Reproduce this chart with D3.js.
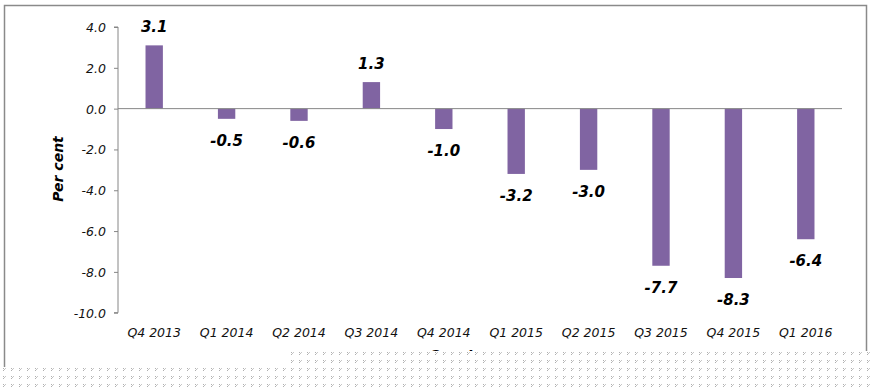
<!DOCTYPE html>
<html><head><meta charset="utf-8">
<script src="https://cdn.jsdelivr.net/npm/d3@7"></script>
<style>body{margin:0;background:#fff}svg{display:block}</style>
</head><body>
<script>
const categories = ["Q4 2013","Q1 2014","Q2 2014","Q3 2014","Q4 2014","Q1 2015","Q2 2015","Q3 2015","Q4 2015","Q1 2016"];
const values = [3.1,-0.5,-0.6,1.3,-1.0,-3.2,-3.0,-7.7,-8.3,-6.4];
const yTicks = [4,2,0,-2,-4,-6,-8,-10];

const W=872,H=390;
const svg=d3.select("body").append("svg").attr("width",W).attr("height",H);
const font="'DejaVu Sans', Verdana, sans-serif";

// frame
svg.append("rect").attr("x",4.5).attr("y",5.5).attr("width",862).attr("height",380)
  .attr("fill","#fff").attr("stroke","#8a8a8a").attr("stroke-width",1.5);

const x=d3.scaleBand().domain(categories).range([118,842]).paddingInner(0.76).paddingOuter(0.38);
const y=d3.scaleLinear().domain([-10,4]).range([312.7,27]);

// y axis
const yAxis=d3.axisLeft(y).tickValues(yTicks).tickSize(4).tickFormat(d=>d.toFixed(1));
const gy=svg.append("g").attr("transform","translate(118,0)").call(yAxis);
gy.select(".domain").attr("stroke","#868686").attr("d",`M-4,${y(4)}H0V${y(-10)}H-4`);
gy.selectAll(".tick line").attr("stroke","#868686");
gy.selectAll(".tick text").attr("x",-12).attr("font-family",font).attr("font-size",12.5)
  .attr("font-style","italic").attr("fill","#111").attr("dy","0.35em");

// bars
svg.selectAll("rect.bar").data(values).enter().append("rect").attr("class","bar")
  .attr("x",(d,i)=>x(categories[i])).attr("width",x.bandwidth())
  .attr("y",d=>y(Math.max(0,d))).attr("height",d=>Math.abs(y(d)-y(0)))
  .attr("fill","#8064A2");

// zero line
svg.append("line").attr("x1",118).attr("x2",842).attr("y1",y(0)).attr("y2",y(0))
  .attr("stroke","#868686").attr("stroke-width",1);

// x labels
svg.selectAll("text.xl").data(categories).enter().append("text").attr("class","xl")
  .attr("x",d=>x(d)+x.bandwidth()/2).attr("y",337).attr("text-anchor","middle")
  .attr("font-family",font).attr("font-size",12.5).attr("font-style","italic").attr("fill","#111")
  .text(d=>d);

// value labels
svg.selectAll("text.vl").data(values).enter().append("text").attr("class","vl")
  .attr("x",(d,i)=>x(categories[i])+x.bandwidth()/2)
  .attr("y",d=>d>=0? y(d)-13 : y(d)+27).attr("text-anchor","middle")
  .attr("font-family",font).attr("font-size",15).attr("font-weight","bold").attr("font-style","italic")
  .attr("fill","#000").text(d=>d.toFixed(1));

// y title
svg.append("text").attr("transform","translate(63,169) rotate(-90)").attr("text-anchor","middle")
  .attr("font-family",font).attr("font-size",14).attr("font-weight","bold").attr("font-style","italic")
  .attr("fill","#000").text("Per cent");

// x title (partly hidden)
svg.append("text").attr("x",429).attr("y",360).attr("text-anchor","start")
  .attr("font-family",font).attr("font-size",14).attr("font-weight","bold").attr("font-style","italic")
  .attr("fill","#000").text("Quarter");

// dotted overlay
const defs=svg.append("defs");
const pat=defs.append("pattern").attr("id","dots").attr("patternUnits","userSpaceOnUse")
  .attr("width",8).attr("height",8).attr("x",2).attr("y",0);
pat.append("rect").attr("width",8).attr("height",8).attr("fill","#fff");
pat.append("rect").attr("x",1).attr("y",0).attr("width",1).attr("height",1).attr("fill","#b0b0b0");
pat.append("rect").attr("x",2).attr("y",1).attr("width",1).attr("height",1).attr("fill","#c0c0c0");
pat.append("rect").attr("x",1).attr("y",2).attr("width",1).attr("height",1).attr("fill","#b0b0b0");
pat.append("rect").attr("x",3).attr("y",0).attr("width",1).attr("height",1).attr("fill","#c8c8c8");
svg.append("rect").attr("x",0).attr("y",367).attr("width",W).attr("height",H-367).attr("fill","url(#dots)");
svg.append("rect").attr("x",288).attr("y",351).attr("width",W-288).attr("height",H-351).attr("fill","url(#dots)");
</script>
</body></html>
